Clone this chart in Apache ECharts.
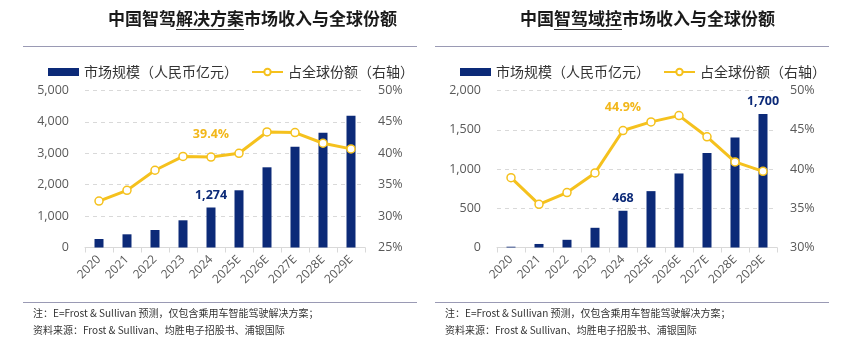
<!DOCTYPE html>
<html>
<head>
<meta charset="utf-8">
<script src="https://cdn.jsdelivr.net/npm/echarts@6/dist/echarts.min.js"></script>
<style>
  html, body { margin: 0; padding: 0; background: #fff; }
  #chart { width: 865px; height: 348px; }
</style>
</head>
<body>
<div id="chart"></div>
<script>
// Categories shared by both panels
const years = ['2020', '2021', '2022', '2023', '2024', '2025E', '2026E', '2027E', '2028E', '2029E'];

// Panel A: intelligent-driving solutions (RMB 100m) and global share (%)
const solutionRevenue = [270, 420, 557, 866, 1274, 1822, 2554, 3210, 3656, 4197];
const solutionShare = [32.4, 34.1, 37.3, 39.5, 39.4, 40.0, 43.4, 43.3, 41.6, 40.7];

// Panel B: intelligent-driving domain controllers (RMB 100m) and global share (%)
const domainRevenue = [10, 45, 98, 251, 468, 718, 943, 1203, 1401, 1700];
const domainShare = [38.9, 35.5, 37.0, 39.5, 44.9, 46.0, 46.8, 44.1, 40.9, 39.7];

// Points whose values are printed
const solutionRevenueLabelled = [4];
const solutionShareLabelled = [4];
const domainRevenueLabelled = [4, 9];
const domainShareLabelled = [4];

// Texts
const titleA = '中国智驾解决方案市场收入与全球份额';
const titleB = '中国智驾域控市场收入与全球份额';
const legendBar = '市场规模（人民币亿元）';
const legendLine = '占全球份额（右轴）';
const noteText = '注：E=Frost & Sullivan 预测，仅包含乘用车智能驾驶解决方案；';
const sourceText = '资料来源：Frost & Sullivan、均胜电子招股书、浦银国际';

const NAVY = '#0c2a78';
const GOLD = '#f5c11d';
const GOLD_TEXT = '#f2b71a';
const AXIS_TEXT = '#595959';
const CJK = '"Noto Sans CJK SC", sans-serif';
const LATIN = '"Open Sans", "Noto Sans CJK SC", sans-serif';

function withLabels(values, idxs, labelOpt) {
  return values.map((v, i) => idxs.includes(i) ? { value: v, label: Object.assign({ show: true }, labelOpt) } : v);
}

const barLabel = {
  position: 'top', distance: 6, color: NAVY, fontWeight: 'bold', fontSize: 12.5, fontFamily: LATIN,
  formatter: p => p.value.toLocaleString('en-US')
};
const lineLabel = {
  position: 'top', distance: 12, color: GOLD_TEXT, fontWeight: 'bold', fontSize: 12.5, fontFamily: LATIN,
  formatter: p => p.value.toFixed(1) + '%'
};

const TITLE_SIZE = 17;
function titleGraphics(text, x, ulStart, ulEnd) {
  return [
    { type: 'text', left: x, top: 10, style: { text: text, fontSize: TITLE_SIZE, fontWeight: 'bold', fontFamily: CJK, fill: '#1a1a1a' } },
    { type: 'line', shape: { x1: x + ulStart * TITLE_SIZE, y1: 29.5, x2: x + ulEnd * TITLE_SIZE, y2: 29.5 }, style: { stroke: '#333', lineWidth: 1 } }
  ];
}
function rule(x1, x2, y) {
  return { type: 'line', shape: { x1: x1, y1: y, x2: x2, y2: y }, style: { stroke: '#9a9ab4', lineWidth: 1 } };
}
function footText(text, x, y) {
  return { type: 'text', x: x, y: y, style: { text: text, fontSize: 10, fontFamily: CJK, fill: '#333', verticalAlign: 'middle' } };
}

const grids = [
  { left: 85, top: 90.5, width: 280, height: 157 },
  { left: 497, top: 90.5, width: 280, height: 157 }
];

function xAxisFor(gi) {
  return {
    type: 'category', gridIndex: gi, data: years,
    axisLine: { lineStyle: { color: '#d9d9d9' } },
    axisTick: { show: true, alignWithLabel: false, length: 5, lineStyle: { color: '#d9d9d9' } },
    axisLabel: { rotate: 45, margin: 10, fontSize: 12, color: AXIS_TEXT, fontFamily: LATIN, interval: 0 }
  };
}
function leftAxis(gi, max, interval) {
  return {
    type: 'value', gridIndex: gi, min: 0, max: max, interval: interval,
    axisLine: { show: false }, axisTick: { show: false },
    splitLine: { show: true, lineStyle: { color: '#d9d9d9', type: [4, 4] } },
    axisLabel: { fontSize: 12.5, color: AXIS_TEXT, fontFamily: LATIN, margin: 16, formatter: v => v.toLocaleString('en-US') }
  };
}
function rightAxis(gi, min, max) {
  return {
    type: 'value', gridIndex: gi, position: 'right', min: min, max: max, interval: 5,
    axisLine: { show: false }, axisTick: { show: false }, splitLine: { show: false },
    axisLabel: { fontSize: 12.5, color: AXIS_TEXT, fontFamily: LATIN, margin: 13, formatter: v => v + '%' }
  };
}

function barSeries(name, data, idxs, xi, yi) {
  return {
    name: name, type: 'bar', xAxisIndex: xi, yAxisIndex: yi, barWidth: 9,
    itemStyle: { color: NAVY }, data: withLabels(data, idxs, barLabel), z: 2
  };
}
function lineSeries(name, data, idxs, xi, yi) {
  return {
    name: name, type: 'line', xAxisIndex: xi, yAxisIndex: yi,
    symbol: 'circle', symbolSize: 8,
    lineStyle: { color: GOLD, width: 3 },
    itemStyle: { color: '#fff', borderColor: GOLD, borderWidth: 1.5 },
    data: withLabels(data, idxs, lineLabel), z: 3
  };
}

function legendAt(left, suffix) {
  return {
    left: left, top: 60, itemGap: 13, itemWidth: 31, itemHeight: 8,
    textStyle: { fontSize: 14, fontFamily: CJK, color: '#333' },
    formatter: n => n.trim(),
    data: [
      { name: legendBar + suffix, icon: 'rect' },
      { name: legendLine + suffix }
    ]
  };
}

const chart = echarts.init(document.getElementById('chart'), null, { renderer: 'canvas' });
chart.setOption({
  animation: false,
  backgroundColor: '#fff',
  grid: grids,
  legend: [legendAt(43, ''), legendAt(455, ' ')],
  xAxis: [xAxisFor(0), xAxisFor(1)],
  yAxis: [leftAxis(0, 5000, 1000), rightAxis(0, 25, 50), leftAxis(1, 2000, 500), rightAxis(1, 30, 50)],
  series: [
    barSeries(legendBar, solutionRevenue, solutionRevenueLabelled, 0, 0),
    lineSeries(legendLine, solutionShare, solutionShareLabelled, 0, 1),
    barSeries(legendBar + ' ', domainRevenue, domainRevenueLabelled, 1, 2),
    lineSeries(legendLine + ' ', domainShare, domainShareLabelled, 1, 3)
  ],
  graphic: [
    ...titleGraphics(titleA, 108, 4, 8),
    ...titleGraphics(titleB, 520, 2, 6),
    rule(23, 417, 46.5), rule(435, 829, 46.5),
    rule(23, 417, 302.5), rule(435, 829, 302.5),
    footText(noteText, 33, 313), footText(sourceText, 33, 330),
    footText(noteText, 445, 313), footText(sourceText, 445, 330)
  ]
});
</script>
</body>
</html>
